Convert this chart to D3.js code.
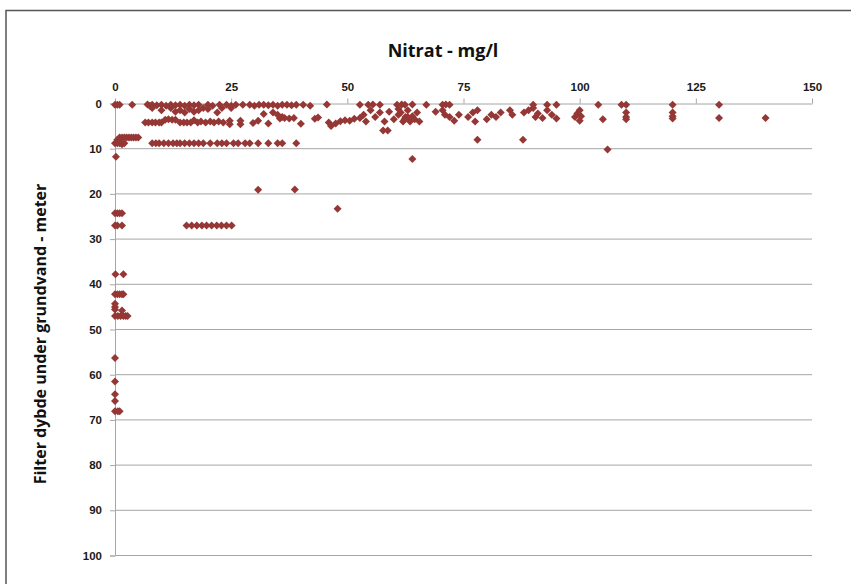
<!DOCTYPE html>
<html>
<head>
<meta charset="utf-8">
<script src="https://cdn.jsdelivr.net/npm/d3@7"></script>
<style>
  html, body { margin: 0; padding: 0; background: #fff; }
  svg { display: block; font-family: "Open Sans", "Noto Sans", sans-serif; }
  .tick text { font-weight: 700; font-size: 11.5px; fill: #1a1a1a; }
</style>
</head>
<body>
<svg id="chart" width="851" height="584"></svg>
<script>
// Nitrat (mg/l) vs filter depth below groundwater (m)
const xTicks = [0, 25, 50, 75, 100, 125, 150];
const yTicks = [0, 10, 20, 30, 40, 50, 60, 70, 80, 90, 100];

// [nitrat, depth]
const shallowRow = [
  [0, 0.3], [0.5, 0.3], [1, 0.3], [3.7, 0.3], [7, 0.2], [7.5, 0.5], [8, 0.3], [9, 0.4],
  [10, 0.3], [11, 0.5], [12, 0.3], [13, 0.4], [14, 0.3], [15, 0.5], [16, 0.3], [17, 0.4],
  [18, 0.3], [20, 0.3], [21, 0.5], [22.5, 0.3], [24, 0.3], [25, 0.5], [26, 0.3], [27.5, 0.3],
  [29, 0.3], [30, 0.5], [31, 0.3], [32, 0.3], [33, 0.4], [34, 0.3], [35, 0.5], [36, 0.3],
  [37, 0.3], [38, 0.4], [39, 0.3], [40.5, 0.3], [42, 0.5], [45.6, 0.2], [52.7, 0.3],
  [54.5, 0.3], [55.5, 0.2], [57, 0.3], [60.7, 0.3], [61.7, 0.2], [62.4, 0.3], [64, 0.2],
  [67, 0.3], [70.5, 0.3], [71.2, 0.2], [72, 0.3], [90, 0.3], [93, 0.3], [95, 0.3],
  [104, 0.3], [109, 0.3], [110, 0.3], [120, 0.3], [130, 0.3]
];

const clusterRow = [
  [8, 1], [10, 1.5], [12, 1], [13, 1.8], [14, 1.5], [15, 2], [16, 1.2], [17, 1.8], [18, 1.5],
  [19, 1], [20, 1.2], [22, 2], [23, 1], [25, 1], [32, 2.3], [34, 2], [35, 2.5], [36, 3],
  [43, 3.4], [61, 1.2], [63, 1.5],
  [6.5, 4.2], [7.2, 4.2], [8, 4.2], [8.7, 4.2], [9.5, 4.2], [10, 4.2], [10.8, 3.6], [11.5, 3.5],
  [12.3, 3.6], [13, 3.6], [14, 4.2], [14.8, 4.2], [15.5, 4.2], [16.3, 4.2], [17, 3.7],
  [17.8, 4.2], [18.5, 4], [19.5, 4.2], [20.5, 4], [21.3, 4.2], [22.3, 4], [23.3, 4.2],
  [24.7, 3.8], [24.7, 4.6], [27, 3.8], [27, 4.6], [29.7, 4.3], [30.8, 3.8], [33, 4.4],
  [35.5, 3.3], [36.5, 3.2], [37.5, 3.3], [38.5, 3.2], [40, 4.5], [43.7, 3.1], [46, 4.2],
  [46.5, 5], [47.5, 4.4], [48.5, 3.9], [49.5, 3.7], [50.5, 3.8], [51.5, 3.4], [52.7, 3.2],
  [53.5, 2.5], [54, 4], [55, 1.5], [56, 3], [57, 2], [58, 4], [59, 1.8], [60, 3.5], [61, 2.5],
  [62, 4], [62.5, 3], [61.5, 2], [62.3, 3.5], [63.5, 4], [64, 2.8], [64.5, 3.5], [65, 2],
  [65.5, 4], [63, 3], [69, 1.8], [70.5, 1.5], [71, 2.5], [72, 3], [73, 3.8], [74, 2.5],
  [76, 3], [77, 2], [77.5, 4], [78, 1.5], [80, 3.5], [81, 2.5], [82, 3], [83, 2], [85, 1.5],
  [85.5, 2.5], [88, 2], [89, 1.5], [90, 1], [90.5, 3], [91, 2.2], [92, 3.2], [93, 1.5],
  [94, 2.5], [95, 3.3], [99, 3], [99.5, 2.2], [100, 1.5], [100, 3.8], [100.3, 2.8],
  [105, 3.5], [110, 2], [110, 3], [110, 3.5], [120, 2], [120, 2.8], [120, 3.3],
  [130, 3.2], [140, 3.2], [57.7, 6], [58.7, 6]
];

const midRows = [
  [0.5, 8], [1, 7.5], [1.5, 7.5], [2, 7.5], [2.5, 7.5], [3, 7.5], [3.5, 7.5], [4, 7.5],
  [4.5, 7.5], [5, 7.5], [0.8, 8.2],
  [0, 8.8], [0.5, 8.8], [1, 8.8], [1.5, 9], [2, 8.8],
  [8, 8.8], [8.8, 8.8], [9.5, 8.8], [10.5, 8.8], [11.5, 8.8], [12.5, 8.8], [13.3, 8.8],
  [14, 8.8], [15, 8.8], [16, 8.8], [17, 8.8], [18, 8.8], [19, 8.8], [20.5, 8.8], [22, 8.8],
  [23, 8.8], [24, 8.8], [25.5, 8.8], [26.5, 8.8], [28, 8.8], [29, 8.8], [30.8, 8.8],
  [33, 8.8], [35, 8.8], [36, 8.8], [39, 8.8],
  [78, 8], [87.8, 8], [106, 10.2], [0.2, 11.8], [64, 12.3],
  [30.8, 19.1], [38.7, 19], [47.9, 23.3]
];

const deepRows = [
  [0, 24.3], [0.5, 24.3], [1, 24.3], [1.5, 24.3],
  [0, 27], [0.5, 27], [1.5, 27], [15.4, 27], [16.5, 27], [17.6, 27], [18.7, 27], [19.7, 27],
  [20.8, 27], [21.9, 27], [22.9, 27], [24, 27], [25.1, 27],
  [0.1, 37.8], [1.8, 37.8],
  [0, 42.2], [0.5, 42.2], [1, 42.2], [1.5, 42.2], [1.8, 42.2],
  [0, 44.3], [0, 45], [0, 45.6], [1.5, 45.8],
  [0, 47], [0.6, 47], [1.2, 47], [1.8, 47], [2.3, 47], [2.7, 47],
  [0, 56.3], [0, 61.5], [0, 64.3], [0, 65.8], [0, 68.1], [0.6, 68.1], [1, 68.1]
];

const points = [...shallowRow, ...clusterRow, ...midRows, ...deepRows];

const svg = d3.select("#chart");
const margin = { top: 103.5, right: 39, bottom: 28.5, left: 115 };
const width = 851 - margin.left - margin.right;
const height = 584 - margin.top - margin.bottom;

// outer chart border
svg.append("rect")
  .attr("x", 6).attr("y", 10.5)
  .attr("width", 860).attr("height", 600)
  .attr("fill", "none").attr("stroke", "#555").attr("stroke-width", 1.5);

const g = svg.append("g").attr("transform", `translate(${margin.left},${margin.top})`);

const x = d3.scaleLinear().domain([0, 150]).range([0, width]);
const y = d3.scaleLinear().domain([0, 100]).range([0, height]);

// horizontal gridlines
g.append("g")
  .selectAll("line")
  .data(yTicks.slice(1))
  .join("line")
  .attr("x1", 0).attr("x2", width)
  .attr("y1", d => y(d)).attr("y2", d => y(d))
  .attr("stroke", "#a6a6a6").attr("stroke-width", 1);

const yAxis = g.append("g")
  .call(d3.axisLeft(y).tickValues(yTicks).tickSize(5).tickPadding(8));
yAxis.select(".domain").attr("stroke", "#a6a6a6");
yAxis.selectAll(".tick line").attr("stroke", "#a6a6a6");

const xAxis = g.append("g")
  .call(d3.axisTop(x).tickValues(xTicks).tickSize(5).tickSizeOuter(0).tickPadding(8));
xAxis.select(".domain").attr("stroke", "#a6a6a6");
xAxis.selectAll(".tick line").attr("stroke", "#a6a6a6");

// diamond markers (square turned 45 degrees, like the spreadsheet marker)
const marker = d3.symbol().type(d3.symbolSquare).size(32);
g.append("g")
  .selectAll("path")
  .data(points)
  .join("path")
  .attr("d", marker)
  .attr("transform", d => `translate(${x(d[0])},${y(d[1])}) rotate(45)`)
  .attr("fill", "#953735");

// titles
svg.append("text")
  .attr("x", 443).attr("y", 57)
  .attr("text-anchor", "middle")
  .attr("font-size", 18).attr("font-weight", 700).attr("fill", "#111")
  .text("Nitrat - mg/l");

svg.append("text")
  .attr("transform", "translate(46,334) rotate(-90)")
  .attr("text-anchor", "middle")
  .attr("font-size", 16).attr("font-weight", 700).attr("fill", "#111")
  .text("Filter dybde under grundvand - meter");
</script>
</body>
</html>
